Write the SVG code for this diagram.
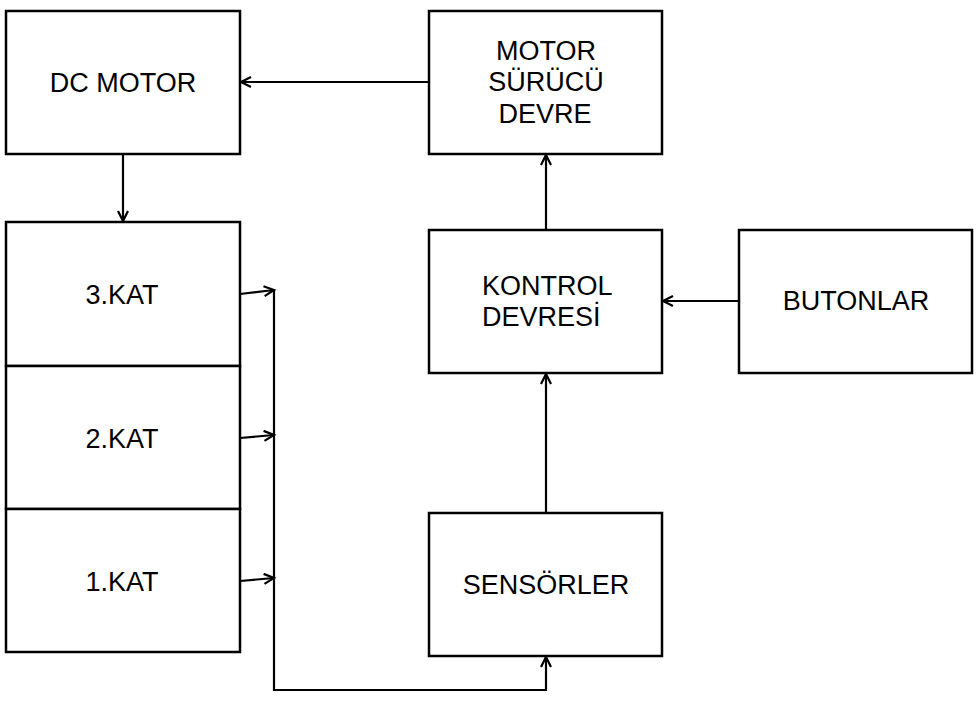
<svg xmlns="http://www.w3.org/2000/svg" width="980" height="702" viewBox="0 0 980 702">
<style>
.box{fill:#fff;stroke:#000;stroke-width:2.5}
.lbl{font-family:"Liberation Sans",Arial,sans-serif;font-size:27px;fill:#000}
.c{text-anchor:middle}
.wire{fill:none;stroke:#000;stroke-width:2.2}
</style>
<defs>
<marker id="ah" markerUnits="userSpaceOnUse" markerWidth="14" markerHeight="14" refX="11" refY="6" orient="auto">
<path d="M1,1 L11,6 L1,11" fill="none" stroke="#000" stroke-width="2.2"/>
</marker>
</defs>
<rect width="980" height="702" fill="#fff"/>
<g id="dc-motor"><rect class="box" x="6" y="11" width="234" height="143"/><text class="lbl c" x="123" y="92">DC MOTOR</text></g>
<g id="motor-surucu"><rect class="box" x="429" y="11" width="233" height="143"/><text class="lbl c" x="546" y="60">MOTOR</text><text class="lbl c" x="546" y="91">SÜRÜCÜ</text><text class="lbl c" x="545" y="123">DEVRE</text></g>
<g id="kontrol"><rect class="box" x="429" y="230" width="233" height="143"/><text class="lbl" x="482" y="295">KONTROL</text><text class="lbl" x="482" y="326">DEVRESİ</text></g>
<g id="butonlar"><rect class="box" x="739" y="230" width="233" height="143"/><text class="lbl c" x="856" y="310">BUTONLAR</text></g>
<g id="sensorler"><rect class="box" x="429" y="513" width="233" height="143"/><text class="lbl c" x="546" y="594">SENSÖRLER</text></g>
<g id="kat3"><rect class="box" x="6" y="222" width="234" height="144"/><text class="lbl c" x="122" y="304">3.KAT</text></g>
<g id="kat2"><rect class="box" x="6" y="366" width="234" height="143"/><text class="lbl c" x="122" y="448">2.KAT</text></g>
<g id="kat1"><rect class="box" x="6" y="509" width="234" height="143"/><text class="lbl c" x="122" y="591">1.KAT</text></g>
<g id="connectors">
<line class="wire" x1="429" y1="82" x2="241" y2="82" marker-end="url(#ah)"/>
<line class="wire" x1="123" y1="154" x2="123" y2="221" marker-end="url(#ah)"/>
<line class="wire" x1="546" y1="230" x2="546" y2="155" marker-end="url(#ah)"/>
<line class="wire" x1="739" y1="301" x2="663" y2="301" marker-end="url(#ah)"/>
<line class="wire" x1="546" y1="513" x2="546" y2="374" marker-end="url(#ah)"/>
<line class="wire" x1="240" y1="294" x2="274" y2="290" marker-end="url(#ah)"/>
<line class="wire" x1="240" y1="438" x2="274" y2="435" marker-end="url(#ah)"/>
<line class="wire" x1="240" y1="581" x2="274" y2="578" marker-end="url(#ah)"/>
<polyline class="wire" points="274,290 274,690 546,690 546,657" marker-end="url(#ah)"/>
</g>
</svg>
